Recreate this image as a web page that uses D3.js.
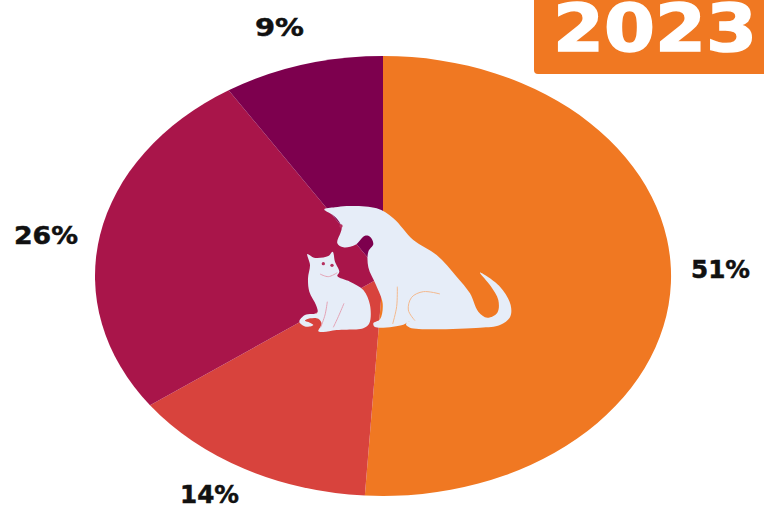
<!doctype html>
<html>
<head>
<title>2023</title>
<script src="https://d3js.org/d3.v7.min.js"></script>
<style>
  body { margin: 0; background: #fff; }
  svg { display: block; }
  text { font-family: "DejaVu Sans", sans-serif; font-weight: bold; }
</style>
</head>
<body>
<div id="container"></div>
<script>
var shares = [51, 14, 26, 9]
var labels = ["51%", "14%", "26%", "9%"]
var colors = ["#f07822", "#d8433d", "#a9154a", "#7d004e"]
var year = "2023"

var width = 764, height = 506
var cx = 383, cy = 276, rx = 288, ry = 220

var svg = d3.select("#container").append("svg")
    .attr("width", width)
    .attr("height", height)

// pie drawn on a unit circle, then stretched to the oval of the original
var pie = d3.pie().sort(null)
var arc = d3.arc().innerRadius(0).outerRadius(1)

svg.append("g")
    .attr("transform", `translate(${cx},${cy}) scale(${rx},${ry})`)
  .selectAll("path").data(pie(shares))
  .enter().append("path")
    .attr("d", arc)
    .attr("fill", (d, i) => colors[i])

// label left edges and widths, the original face is wider than DejaVu
var labelX = [691, 180, 14, 255]
var labelY = [269, 494, 235, 27]
var labelW = [59, 59, 64, 49]
svg.selectAll("text.pct").data(labels)
  .enter().append("text")
    .attr("class", "pct")
    .attr("x", (d, i) => labelX[i])
    .attr("y", (d, i) => labelY[i])
    .attr("dy", "0.36em")
    .attr("font-size", 24)
    .attr("textLength", (d, i) => labelW[i])
    .attr("lengthAdjust", "spacingAndGlyphs")
    .attr("fill", "#111")
    .attr("stroke", "#111")
    .attr("stroke-width", 0.5)
    .text(d => d)

// year badge
svg.append("rect")
    .attr("x", 534).attr("y", -6)
    .attr("width", 240).attr("height", 80)
    .attr("rx", 4)
    .attr("fill", "#f07822")
svg.append("text")
    .attr("x", 553).attr("y", 51)
    .attr("font-size", 65)
    .attr("textLength", 204)
    .attr("lengthAdjust", "spacingAndGlyphs")
    .attr("fill", "#fff")
    .attr("stroke", "#fff")
    .attr("stroke-width", 1.5)
    .text(year)

// dog and cat silhouette, outlines traced at 3x
var dogOutline = [[133,58],[165,52],[200,48],[290,55],[340,85],[400,150],[470,195],[530,260],[570,310],[595,365],[622,383],[652,368],[655,330],[632,288],[600,248],[660,290],[692,345],[690,382],[660,405],[600,413],[390,413],[378,403],[388,393],[370,404],[285,411],[280,400],[300,388],[308,340],[288,285],[265,232],[265,185],[280,162],[270,140],[255,137],[225,165],[190,172],[172,160],[185,112],[165,80]]
var catOutline = [[82,192],[102,203],[145,198],[158,185],[165,215],[178,245],[172,258],[210,275],[250,300],[270,345],[268,400],[250,415],[170,420],[130,426],[115,424],[125,402],[115,386],[90,385],[75,392],[85,396],[100,405],[78,410],[58,395],[75,375],[112,368],[108,345],[88,305],[84,265],[90,225]]
var outline = d3.line().curve(d3.curveCatmullRomClosed.alpha(0.5))
var detail = d3.line().curve(d3.curveCatmullRom.alpha(0.5))

var icon = svg.append("g").attr("transform", "translate(280,190) scale(0.3333)")
icon.append("path").attr("d", outline(dogOutline)).attr("fill", "#e6edf8")
icon.append("path").attr("d", outline(catOutline)).attr("fill", "#e6edf8")

var dogLines = [
  [[480,312],[430,305],[395,322],[385,360],[405,392]],
  [[352,290],[350,350],[338,402]]
]
icon.selectAll("path.dogline").data(dogLines)
  .enter().append("path")
    .attr("class", "dogline")
    .attr("d", detail)
    .attr("fill", "none")
    .attr("stroke", "#f3b98e")
    .attr("stroke-width", 3)

var catLines = [
  [[142,335],[135,375],[122,412]],
  [[192,340],[175,380],[160,412]],
  [[120,252],[145,260],[172,248]]
]
icon.selectAll("path.catline").data(catLines)
  .enter().append("path")
    .attr("class", "catline")
    .attr("d", detail)
    .attr("fill", "none")
    .attr("stroke", "#e3a3b5")
    .attr("stroke-width", 3)

// cat's eyes and dog's eye
var eyeX = [130, 156, 183]
var eyeY = [221, 226, 108]
icon.selectAll("circle").data(eyeX)
  .enter().append("circle")
    .attr("cx", d => d)
    .attr("cy", (d, i) => eyeY[i])
    .attr("r", 5)
    .attr("fill", "#b5305f")
</script>
</body>
</html>
